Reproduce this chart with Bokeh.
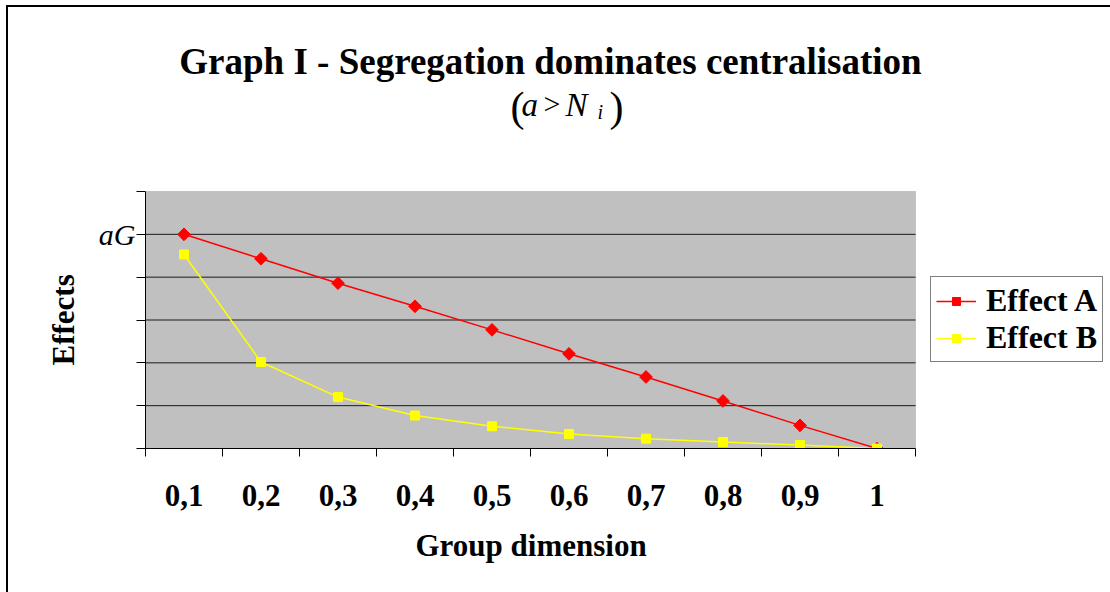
from bokeh.plotting import figure
from bokeh.models import Range1d, FixedTicker, Legend, LegendItem, Label, BoxAnnotation, Title
from bokeh.embed import file_html
from bokeh.resources import INLINE

# ---- data ----
groups = ["0,1", "0,2", "0,3", "0,4", "0,5", "0,6", "0,7", "0,8", "0,9", "1"]
positions = [1, 2, 3, 4, 5, 6, 7, 8, 9, 10]
effect_a = [5.0, 4.43, 3.86, 3.32, 2.77, 2.21, 1.67, 1.11, 0.54, 0.0]
effect_b = [4.53, 2.02, 1.20, 0.77, 0.52, 0.34, 0.23, 0.15, 0.08, 0.0]
y_ticks = [0, 1, 2, 3, 4, 5, 6]
y_tick_labels = {0: "", 1: "", 2: "", 3: "", 4: "", 5: "aG", 6: ""}
title_text = "Graph I - Segregation dominates centralisation"
x_title = "Group dimension"
y_title = "Effects"

FONT = "Liberation Serif"
W, H = 1110, 592
# plot-area box in canvas pixels; the frame itself reaches the top and right edges
PL, PR, PT, PB = 145, 915, 191, 448

x_lo, x_hi = positions[0] - 0.5, positions[-1] + 0.5
y_lo, y_hi = y_ticks[0], y_ticks[-1]
px_x = (PR - PL) / (x_hi - x_lo)
px_y = (PB - PT) / (y_hi - y_lo)

p = figure(width=W, height=H, output_backend="svg", toolbar_location=None,
           x_range=Range1d(x_lo, x_lo + (W - PL) / px_x),
           y_range=Range1d(y_lo, y_lo + PB / px_y), title=None,
           min_border_left=PL, min_border_right=0,
           min_border_top=0, min_border_bottom=H - PB,
           background_fill_color=None, border_fill_color=None,
           outline_line_color=None)

# chart border (top and left edges; the others lie outside the window)
p.styles = {
    "background-color": "white",
    "background-image": "linear-gradient(#000, #000), linear-gradient(#000, #000)",
    "background-size": "2px 100%, 100% 2px",
    "background-position": "6px 5px, 6px 5px",
    "background-repeat": "no-repeat",
}

# grey plot area
p.add_layout(BoxAnnotation(left=x_lo, right=x_hi, bottom=y_lo, top=y_hi,
                           fill_color="#C0C0C0", fill_alpha=1,
                           line_color="#808080", line_width=1, level="image"))
# horizontal gridlines
grid_ys = y_ticks[1:-1]
p.segment(x0=[x_lo] * len(grid_ys), x1=[x_hi] * len(grid_ys), y0=grid_ys, y1=grid_ys,
          line_color="#1a1a1a", line_width=1, level="underlay")
p.grid.visible = False

xa = p.xaxis[0]
xa.bounds = (x_lo, x_hi)
xa.ticker = FixedTicker(ticks=positions, minor_ticks=[x - 0.5 for x in positions] + [x_hi])
xa.major_label_overrides = {pos: g for pos, g in zip(positions, groups)}
xa.major_tick_out = 0
xa.major_tick_in = 0
xa.minor_tick_out = 8
xa.minor_tick_in = 0
xa.minor_tick_line_color = "black"
xa.axis_line_color = "black"
xa.major_label_text_font = FONT
xa.major_label_text_font_style = "bold"
xa.major_label_text_font_size = "31px"
xa.major_label_text_color = "black"
xa.major_label_standoff = 28

ya = p.yaxis[0]
ya.bounds = (y_lo, y_hi)
ya.ticker = FixedTicker(ticks=y_ticks)
ya.major_label_overrides = y_tick_labels
ya.major_tick_out = 9
ya.major_tick_in = 0
ya.minor_tick_out = 0
ya.minor_tick_in = 0
ya.major_tick_line_color = "black"
ya.axis_line_color = "black"
ya.major_label_text_font = FONT
ya.major_label_text_font_style = "italic"
ya.major_label_text_font_size = "30px"
ya.major_label_text_color = "black"
ya.major_label_standoff = 1

# axis titles, placed along the plot area rather than along the (wider) frame
p.add_layout(Title(text=x_title, align="left", offset=415 - PL,
                   standoff=34, text_font=FONT, text_font_style="bold",
                   text_font_size="31px", text_color="black"), "below")
p.add_layout(Title(text=y_title, align="left", offset=PB - 365,
                   standoff=29, text_font=FONT, text_font_style="bold",
                   text_font_size="31px", text_color="black"), "left")

la = p.line(positions, effect_a, line_color="#FF0000", line_width=1.5)
sa = p.scatter(positions, effect_a, marker="square", angle=0.785398, size=9,
               fill_color="#FF0000", line_color="#FF0000")
lb = p.line(positions, effect_b, line_color="#FFFF00", line_width=1.5)
sb = p.scatter(positions, effect_b, marker="square", size=9,
               fill_color="#FFFF00", line_color="#FFFF00")

legend = Legend(items=[LegendItem(label="Effect A", renderers=[la, sa]),
                       LegendItem(label="Effect B", renderers=[lb, sb])],
                location=(930 - PL, PB - 362))
legend.border_line_color = "black"
legend.border_line_width = 1
legend.background_fill_color = "white"
legend.background_fill_alpha = 1
legend.label_text_font = FONT
legend.label_text_font_style = "bold"
legend.label_text_font_size = "32px"
legend.label_text_color = "black"
legend.glyph_width = 40
legend.glyph_height = 20
legend.label_standoff = 10
legend.spacing = 0
legend.padding = 5
legend.margin = 0
p.add_layout(legend)


def lab(text, cx, cy, size, style="normal", align="left"):
    p.add_layout(Label(x=cx - PL, y=PB - cy, x_units="screen", y_units="screen",
                       text=text, text_font=FONT, text_font_size=size,
                       text_font_style=style, text_color="black",
                       text_align=align, text_baseline="alphabetic"))


lab(title_text, 550, 61, "37px", "bold", "center")
lab("(", 510, 106, "42px")
lab("a", 521, 104, "33px", "italic")
lab(">", 543, 103, "30px")
lab("N", 565, 104, "33px", "italic")
lab("i", 597, 111, "20px", "italic")
lab(")", 609, 106, "42px")

open("out.html", "w").write(file_html(p, INLINE))
